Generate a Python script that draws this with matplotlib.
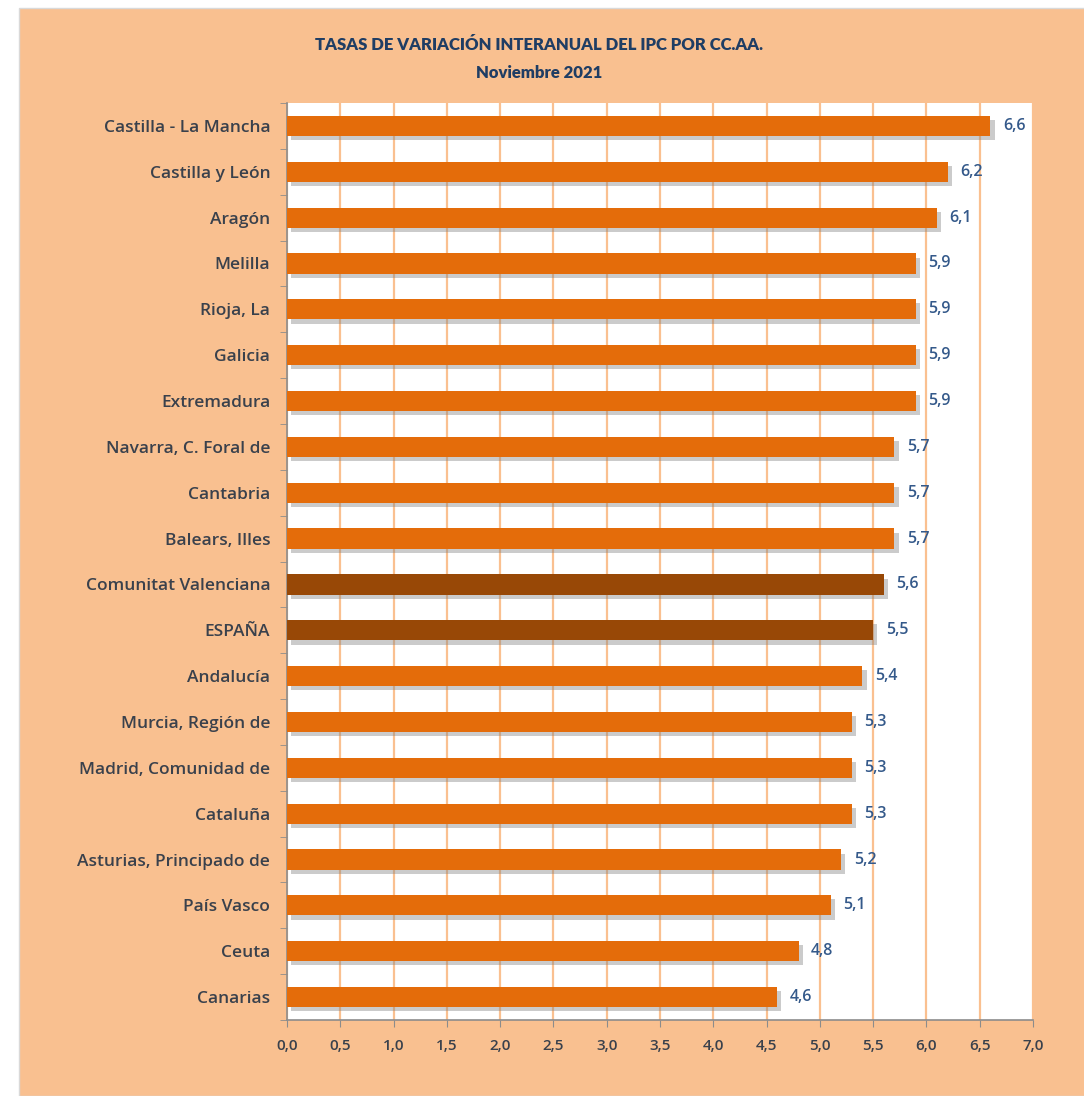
import matplotlib
matplotlib.use("Agg")
import matplotlib.pyplot as plt
import matplotlib.patheffects as pe
from matplotlib.patches import Rectangle

regiones = ["Castilla - La Mancha", "Castilla y León", "Aragón", "Melilla", "Rioja, La",
            "Galicia", "Extremadura", "Navarra, C. Foral de", "Cantabria", "Balears, Illes",
            "Comunitat Valenciana", "ESPAÑA", "Andalucía", "Murcia, Región de",
            "Madrid, Comunidad de", "Cataluña", "Asturias, Principado de", "País Vasco",
            "Ceuta", "Canarias"]
tasas = [6.6, 6.2, 6.1, 5.9, 5.9, 5.9, 5.9, 5.7, 5.7, 5.7,
         5.6, 5.5, 5.4, 5.3, 5.3, 5.3, 5.2, 5.1, 4.8, 4.6]
destacadas = ["Comunitat Valenciana", "ESPAÑA"]
xticks = [0.0, 0.5, 1.0, 1.5, 2.0, 2.5, 3.0, 3.5, 4.0, 4.5, 5.0, 5.5, 6.0, 6.5, 7.0]

naranja = "#E46C0A"
marron = "#984806"
fondo = "#F9C090"
rejilla = "#FAC090"
azul = "#1F3D64"
gris_txt = "#3A414C"

plt.rcParams["font.family"] = ["Lato", "DejaVu Sans"]
etiq = ["Open Sans", "DejaVu Sans"]

fig = plt.figure(figsize=(10.84, 10.96), dpi=100)
fig.patch.set_facecolor("white")
fig.patches.append(Rectangle((19 / 1084, 0), 1, 1 - 8 / 1096, transform=fig.transFigure,
                             facecolor=fondo, edgecolor="#D9D9D9", lw=1.0, zorder=-10))

ax = fig.add_axes([287 / 1084, 1 - 1020 / 1096, 746 / 1084, 917 / 1096])
ax.set_facecolor("white")

n = len(regiones)
ypos = list(range(n))[::-1]
colores = [marron if r in destacadas else naranja for r in regiones]

barras = ax.barh(ypos, tasas, height=0.44, color=colores, zorder=3)
for b in barras:
    b.set_path_effects([pe.SimplePatchShadow(offset=(3, -3), shadow_rgbFace="#7F7F7F", alpha=0.4),
                        pe.Normal()])

for y, v in zip(ypos, tasas):
    ax.annotate(f"{v:.1f}".replace(".", ","), (v, y), xytext=(9, 0), textcoords="offset points",
                va="center", ha="left", fontsize=11.5, fontweight="semibold", color="#34598A",
                family=etiq, zorder=4)

ax.set_xlim(0, 7)
ax.set_ylim(-0.5, n - 0.5)
ax.set_xticks(xticks)
ax.set_xticklabels([f"{t:.1f}".replace(".", ",") for t in xticks], fontsize=11,
                   fontweight="semibold", color=gris_txt, family=etiq)
ax.set_yticks(ypos)
ax.set_yticklabels(regiones, fontsize=12.5, fontweight="semibold", color=gris_txt, family=etiq)
ax.tick_params(axis="y", length=0, pad=12)
ax.set_yticks([i - 0.5 for i in range(n + 1)], minor=True)
ax.tick_params(axis="y", which="minor", length=5, color="#8C8C8C", direction="out")
ax.tick_params(axis="x", length=5, color="#8C8C8C", direction="out", pad=9)

ax.grid(axis="x", color=rejilla, lw=1.6, zorder=1)
for s in ["top", "right"]:
    ax.spines[s].set_visible(False)
for s in ["left", "bottom"]:
    ax.spines[s].set_color("#8C8C8C")
    ax.spines[s].set_linewidth(1.2)

fig.text(0.497, 1 - 45 / 1096, "TASAS DE VARIACIÓN INTERANUAL DEL IPC POR CC.AA.",
         ha="center", va="center", fontsize=12, fontweight="heavy", color=azul)
fig.text(0.497, 1 - 73 / 1096, "Noviembre 2021", ha="center", va="center",
         fontsize=12, fontweight="heavy", color=azul)

fig.savefig("out.png", dpi=100)
